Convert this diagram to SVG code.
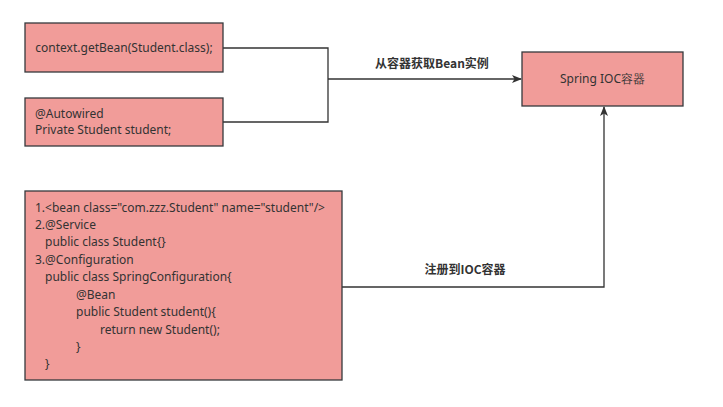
<svg xmlns="http://www.w3.org/2000/svg" width="723" height="407" viewBox="0 0 723 407">
<style>
.box{fill:#f19c99;stroke:#36393d;stroke-width:1.3}
.t{font-family:"Noto Sans","Liberation Sans",sans-serif;font-size:12px;fill:#333333}
.lbl{font-family:"Noto Sans CJK SC","Noto Sans",sans-serif;font-size:12px;font-weight:bold;fill:#333333}
.ln{fill:none;stroke:#333333;stroke-width:1.3}
</style>
<defs>
<marker id="ah" viewBox="0 0 10 10" refX="9" refY="5" markerWidth="10" markerHeight="10" markerUnits="userSpaceOnUse" orient="auto">
<path d="M0,1 L10,5 L0,9 L2.5,5 Z" fill="#333333"/>
</marker>
</defs>
<rect width="723" height="407" fill="#ffffff"/>
<g id="connectors">
<path class="ln" d="M223,48 H328 V122 H223"/>
<path class="ln" d="M328,79 H521" marker-end="url(#ah)"/>
<path class="ln" d="M342,287 H604 V107" marker-end="url(#ah)"/>
<text class="lbl" x="432" y="68" text-anchor="middle">从容器获取Bean实例</text>
<text class="lbl" x="465" y="274" text-anchor="middle">注册到IOC容器</text>
</g>
<g id="getbean">
<rect class="box" x="25" y="23" width="198" height="49"/>
<text class="t" x="124" y="52" text-anchor="middle">context.getBean(Student.class);</text>
</g>
<g id="autowired">
<rect class="box" x="25" y="98" width="198" height="48"/>
<text class="t" x="35" y="118">@Autowired</text>
<text class="t" x="35" y="133.5">Private Student student;</text>
</g>
<g id="ioc">
<rect class="box" x="522" y="52" width="161" height="54"/>
<text class="t" x="602.5" y="83" text-anchor="middle">Spring IOC容器</text>
</g>
<g id="register">
<rect class="box" x="25" y="191" width="317" height="189"/>
<text class="t" x="35" y="212">1.&lt;bean class="com.zzz.Student" name="student"/&gt;</text>
<text class="t" x="35" y="229">2.@Service</text>
<text class="t" x="45" y="246">public class Student{}</text>
<text class="t" x="35" y="264">3.@Configuration</text>
<text class="t" x="45" y="281">public class SpringConfiguration{</text>
<text class="t" x="76" y="299">@Bean</text>
<text class="t" x="76" y="316">public Student student(){</text>
<text class="t" x="100" y="334">return new Student();</text>
<text class="t" x="76" y="351">}</text>
<text class="t" x="45" y="368">}</text>
</g>
</svg>
